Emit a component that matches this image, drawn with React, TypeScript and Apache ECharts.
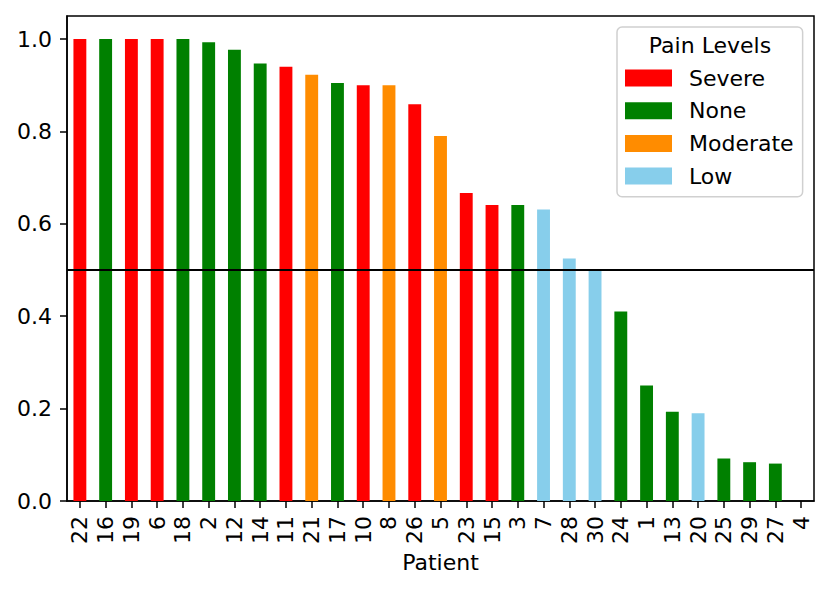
import React, { useEffect, useRef } from "react";
import * as echarts from "echarts";

const patients = ["22","16","19","6","18","2","12","14","11","21","17","10","8","26","5","23","15","3","7","28","30","24","1","13","20","25","29","27","4"];
const scores = [1.0,1.0,1.0,1.0,1.0,0.993,0.977,0.947,0.940,0.923,0.905,0.900,0.900,0.859,0.790,0.667,0.641,0.641,0.631,0.525,0.502,0.410,0.250,0.193,0.190,0.092,0.084,0.081,0];
const painLevels = ["Severe","None","Severe","Severe","None","None","None","None","Severe","Moderate","None","Severe","Moderate","Severe","Moderate","Severe","Severe","None","Low","Low","Low","None","None","None","Low","None","None","None","None"];
const levelNames = ["Severe","None","Moderate","Low"];
const levelColors = ["#ff0000","#008000","#ff8c00","#87ceeb"];
const yTicks = [0, 0.2, 0.4, 0.6, 0.8, 1.0];
const yMax = 1.05;
const threshold = 0.5;
const legendTitle = "Pain Levels";
const xName = "Patient";

const FONT = "DejaVu Sans";

export default function App() {
  const ref = useRef<HTMLDivElement>(null);
  useEffect(() => {
    if (!ref.current) return;
    const chart = echarts.init(ref.current, undefined, { renderer: "svg" });
    const barSeries = levelNames.map((lvl, i) => ({
      name: lvl,
      type: "bar",
      stack: "all",
      barWidth: "50%",
      z: 3,
      itemStyle: { color: levelColors[i] },
      data: scores.map((v, j) => (painLevels[j] === lvl ? v : "-")),
    }));
    chart.setOption({
      animation: false,
      textStyle: { fontFamily: FONT },
      grid: {
        left: 67,
        right: 17,
        top: 16,
        bottom: 91,
        show: true,
        borderColor: "#000",
        borderWidth: 1.5,
        backgroundColor: "transparent",
      },
      legend: {
        data: levelNames,
        orient: "vertical",
        left: 617,
        top: 27,
        icon: "rect",
        itemWidth: 47,
        itemHeight: 17,
        itemGap: 10.7,
        padding: [40, 9, 9.7, 8],
        backgroundColor: "rgba(255,255,255,0.8)",
        borderColor: "#d0d0d0",
        borderWidth: 1.5,
        borderRadius: 5,
        selectedMode: false,
        textStyle: {
          fontFamily: FONT,
          fontSize: 22,
          color: "#000",
          padding: [0, 0, 0, 12],
        },
      },
      graphic: [
        {
          type: "text",
          x: 710,
          y: 45,
          z: 100,
          style: {
            text: legendTitle,
            fontFamily: FONT,
            fontSize: 22,
            fill: "#000",
            textAlign: "center",
            textVerticalAlign: "middle",
          },
        },
      ],
      xAxis: {
        type: "category",
        data: patients,
        boundaryGap: true,
        name: xName,
        nameLocation: "middle",
        nameGap: 50,
        nameTextStyle: { fontFamily: FONT, fontSize: 22, color: "#000" },
        axisLine: { show: true, lineStyle: { color: "#000", width: 1.5 } },
        axisTick: {
          show: true,
          alignWithLabel: true,
          length: 7,
          lineStyle: { color: "#000", width: 1.5 },
        },
        axisLabel: {
          rotate: 90,
          interval: 0,
          margin: 15,
          fontFamily: FONT,
          fontSize: 22,
          color: "#000",
        },
        splitLine: { show: false },
      },
      yAxis: {
        type: "value",
        min: 0,
        max: yMax,
        axisLine: { show: true, lineStyle: { color: "#000", width: 1.5 } },
        axisTick: {
          show: true,
          length: 7,
          customValues: yTicks,
          lineStyle: { color: "#000", width: 1.5 },
        },
        axisLabel: {
          margin: 15,
          customValues: yTicks,
          fontFamily: FONT,
          fontSize: 22,
          color: "#000",
          formatter: (v: number) => v.toFixed(1),
        },
        splitLine: { show: false },
      },
      series: [
        {
          name: "threshold",
          type: "line",
          data: [],
          z: 1,
          silent: true,
          markLine: {
            silent: true,
            symbol: ["none", "none"],
            label: { show: false },
            lineStyle: { color: "#000", width: 1.8, type: "solid" },
            data: [{ yAxis: threshold }],
          },
        },
        ...barSeries,
      ],
    });
    return () => chart.dispose();
  }, []);
  return (
    <div
      ref={ref}
      style={{ position: "fixed", left: 0, top: 0, width: 831, height: 592, background: "#fff" }}
    />
  );
}
